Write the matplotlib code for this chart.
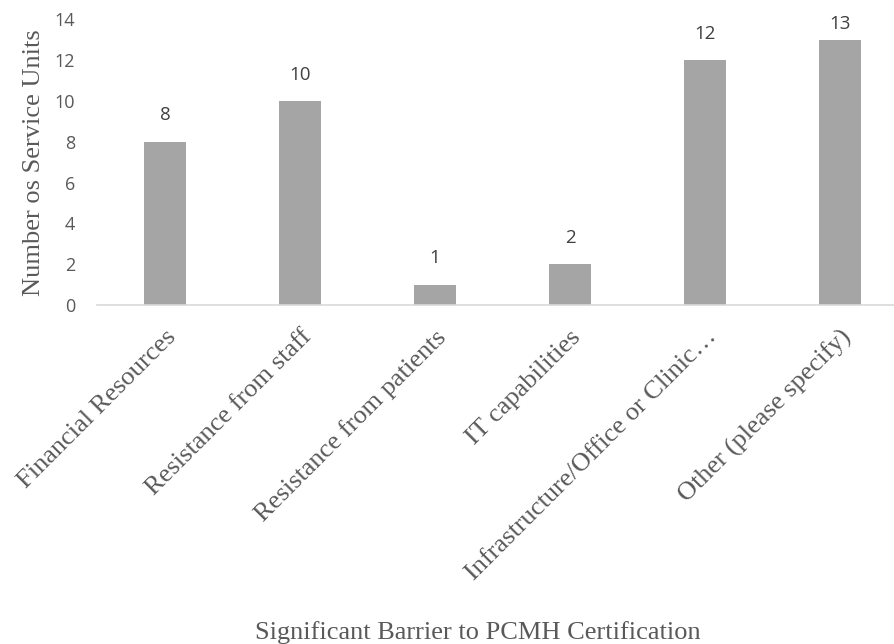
import matplotlib

matplotlib.use("Agg")
import matplotlib.pyplot as plt

categories = [
    "Financial Resources",
    "Resistance from staff",
    "Resistance from patients",
    "IT capabilities",
    "Infrastructure/Office or Clinic…",
    "Other (please specify)",
]
counts = [8, 10, 1, 2, 12, 13]
y_ticks = [0, 2, 4, 6, 8, 10, 12, 14]

TEXT_GREY = "#595959"
BAR_GREY = "#A5A5A5"
SERIF = ["Liberation Serif", "DejaVu Serif"]
SANS = ["Open Sans", "DejaVu Sans"]
Y_MAX = 14


def main():
    fig = plt.figure(figsize=(8.95, 6.44), dpi=100)
    ax = fig.add_axes([97.5 / 895, 339 / 644, 1 - 97.5 / 895, (624.6 - 339) / 644])

    x = list(range(len(categories)))
    bars = ax.bar(x, counts, width=0.31, color=BAR_GREY, zorder=2)

    # value labels sit above the bars but are kept inside the plot area
    for bar, value in zip(bars, counts):
        label_y = min(bar.get_height() + 0.85, Y_MAX - 0.65)
        ax.text(
            bar.get_x() + bar.get_width() / 2,
            label_y,
            f"{value}",
            ha="center",
            va="bottom",
            fontsize=13.5,
            family=SANS,
            color="#404040",
        )

    ax.set_xlim(-0.5, 5.5 - 12.5 / 135)
    ax.set_ylim(0, Y_MAX)
    ax.set_yticks(y_ticks)
    ax.set_yticklabels([str(t) for t in y_ticks], family=SANS, fontsize=13, color=TEXT_GREY)
    ax.tick_params(axis="y", length=0, pad=16)
    ax.tick_params(axis="x", length=0, pad=15)

    ax.set_xticks(x)
    ax.set_xticklabels(
        categories,
        rotation=45,
        ha="right",
        rotation_mode="anchor",
        family=SERIF,
        fontsize=19,
        color=TEXT_GREY,
    )

    for side in ("top", "right", "left"):
        ax.spines[side].set_visible(False)
    ax.spines["bottom"].set_color("#D9D9D9")
    ax.spines["bottom"].set_linewidth(1.2)

    ax.set_ylabel("Number os Service Units", family=SERIF, fontsize=19, color=TEXT_GREY, labelpad=7)
    fig.text(
        478 / 895,
        1 - 639 / 644,
        "Significant Barrier to PCMH Certification",
        ha="center",
        va="baseline",
        family=SERIF,
        fontsize=19,
        color=TEXT_GREY,
    )

    fig.savefig("out.png", dpi=100)
    plt.close(fig)


if __name__ == "__main__":
    main()
